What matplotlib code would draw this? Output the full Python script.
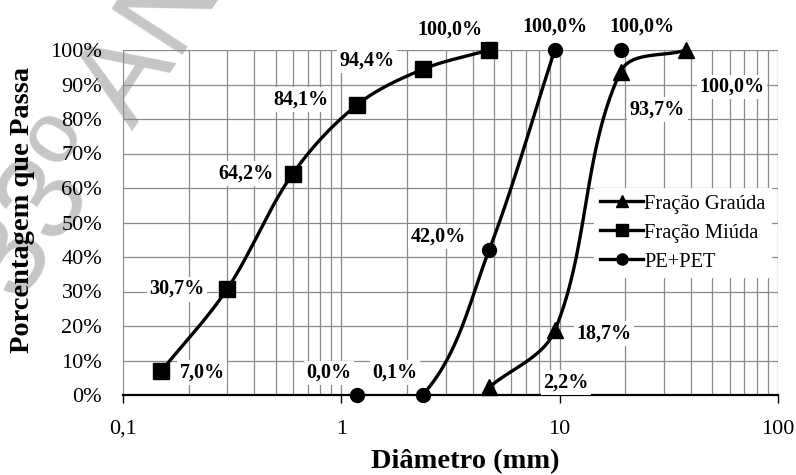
import numpy as np
import matplotlib
matplotlib.use('Agg')
import matplotlib.pyplot as plt
from matplotlib.patches import Rectangle
from matplotlib.ticker import FixedLocator, FixedFormatter, LogLocator, NullFormatter

plt.rcParams['font.family'] = ['Liberation Serif', 'DejaVu Serif']

# dados (diâmetro em mm, % que passa)
graudo_d = [4.75, 9.5, 19.0, 38.0]
graudo_p = [2.2, 18.7, 93.7, 100.0]
miudo_d = [0.15, 0.3, 0.6, 1.18, 2.36, 4.75]
miudo_p = [7.0, 30.7, 64.2, 84.1, 94.4, 100.0]
pet_d = [1.18, 2.36, 4.75, 9.5, 19.0]
pet_p = [0.0, 0.1, 42.0, 100.0, 100.0]
pet_n_linha = 4  # na figura original a curva do PE+PET termina em 9,5 mm

x_ticks = [0.1, 1, 10, 100]
x_ticklabels = ['0,1', '1', '10', '100']
y_ticks = [0, 10, 20, 30, 40, 50, 60, 70, 80, 90, 100]

# deslocamento dos rótulos (pixels)
graudo_off = [(77, 5), (49, -3), (37, -38), (46, -37)]
miudo_off = [(41, -2), (-50, 0), (-47, 0), (-56, 5), (-56, 9), (-39, 20)]
pet_off = [(-28, 22), (-28, 22), (-51, 14), (0, 23), (21, 23)]

W, H = 796, 475
fig = plt.figure(figsize=(W / 100, H / 100), dpi=100)
ax = fig.add_axes([123 / W, 1 - 395 / H, (778 - 123) / W, (395 - 50) / H])
ax.patch.set_alpha(0)
ax.set_xscale('log')
ax.set_xlim(0.1, 100)
ax.set_ylim(0, 100)


def smooth(xd, yd, n=40):
    # curva suavizada tipo Excel: Bezier com tangente unitária e 1/3 da corda
    pts = ax.transData.transform(np.column_stack([xd, yd]))
    m = len(pts)
    tang = []
    for i in range(m):
        d = pts[min(i + 1, m - 1)] - pts[max(i - 1, 0)]
        tang.append(d / np.hypot(*d))
    out = []
    t = np.linspace(0, 1, n)[:, None]
    for i in range(m - 1):
        p0, p3 = pts[i], pts[i + 1]
        L = np.hypot(*(p3 - p0))
        c1 = p0 + tang[i] * L / 3
        c2 = p3 - tang[i + 1] * L / 3
        seg = (1 - t) ** 3 * p0 + 3 * (1 - t) ** 2 * t * c1 + 3 * (1 - t) * t ** 2 * c2 + t ** 3 * p3
        out.append(seg)
    return ax.transData.inverted().transform(np.vstack(out))


series = [
    (graudo_d, graudo_p, len(graudo_d), '^', 11, graudo_off, 'Fração Graúda'),
    (miudo_d, miudo_p, len(miudo_d), 's', 11, miudo_off, 'Fração Miúda'),
    (pet_d, pet_p, pet_n_linha, 'o', 10, pet_off, 'PE+PET'),
]

handles = []
for xd, yd, nl, mk, ms, offs, lab in series:
    c = smooth(xd[:nl], yd[:nl])
    ln, = ax.plot(c[:, 0], c[:, 1], color='black', lw=2.4, zorder=4)
    clip = Rectangle((0, 0), 1, 1 + 3 / 345, transform=ax.transAxes, fc='none', ec='none')
    ln.set_clip_path(clip)
    ax.plot(xd, yd, ls='none', marker=mk, ms=ms, color='black', zorder=5, clip_on=False)
    h, = ax.plot([], [], color='black', lw=2.4, marker=mk, ms=8, label=lab)
    handles.append(h)
    for x, y, o in zip(xd, yd, offs):
        ax.annotate(f'{y:.1f}%'.replace('.', ','), (x, y), xytext=o, textcoords='offset pixels',
                    ha='center', va='center', fontsize=14.5, fontweight='bold', zorder=6,
                    annotation_clip=False,
                    bbox=dict(boxstyle='square,pad=0.12', fc='white', ec='none'))

ax.xaxis.set_major_locator(FixedLocator(x_ticks))
ax.xaxis.set_major_formatter(FixedFormatter(x_ticklabels))
ax.xaxis.set_minor_locator(LogLocator(base=10, subs=np.arange(2, 10)))
ax.xaxis.set_minor_formatter(NullFormatter())
ax.set_yticks(y_ticks)
ax.set_yticklabels([f'{v}%' for v in y_ticks])

ax.grid(True, which='both', color='#8a8a8a', lw=0.9)
ax.set_axisbelow(True)
for s in ['top', 'right', 'left']:
    ax.spines[s].set_visible(False)
ax.spines['bottom'].set_linewidth(1.6)
ax.spines['bottom'].set_zorder(3)
ax.tick_params(axis='x', which='major', length=6, width=1, direction='out', labelsize=16, pad=12)
ax.tick_params(axis='x', which='minor', length=0)
ax.tick_params(axis='y', length=0, labelsize=16, pad=15)

ax.set_xlabel('Diâmetro (mm)', fontsize=20.5, fontweight='bold', va='center')
ax.xaxis.set_label_coords(0.522, -0.194)
ax.set_ylabel('Porcentagem que Passa', fontsize=20.5, fontweight='bold', va='center')
ax.yaxis.set_label_coords(-0.154, 0.536)

leg = ax.legend(handles=handles, loc='upper left', bbox_to_anchor=(594 / W, 1 - 188 / H),
                bbox_transform=fig.transFigure, fontsize=14.8, frameon=True, fancybox=False,
                edgecolor='none', facecolor='white', framealpha=1, handlelength=2.1,
                handletextpad=0.05, labelspacing=0.47, borderpad=0.3, borderaxespad=0)
leg.set_zorder(7)

# marca d'água (atrás de tudo)
fig.text(20 / W, 1 - 305 / H, '33º ANPET', fontsize=88, color='#c6c6c6',
         rotation=57, rotation_mode='anchor', ha='left', va='baseline',
         family='Liberation Sans', zorder=-1)

fig.savefig('out.png', dpi=100)
